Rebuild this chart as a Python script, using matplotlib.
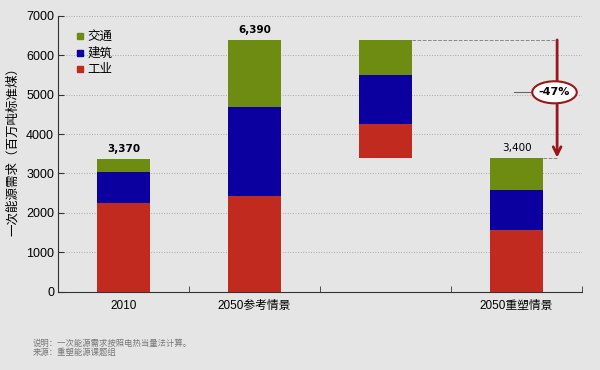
import matplotlib.pyplot as plt
from matplotlib.patches import Ellipse
from matplotlib.lines import Line2D

plt.rcParams['font.family'] = ['Liberation Sans', 'Noto Sans CJK SC', 'DejaVu Sans']

# data (million tons of coal equivalent)
categories = ['2010', '2050参考情景', '', '2050重塑情景']
industry = [2250, 2420, 1570]     # 工业: 2010, 2050 ref, 2050 reshaped
building = [780, 2260, 1000]      # 建筑
transport = [340, 1710, 830]      # 交通
totals = ['3,370', '6,390', '3,400']
change_label = '-47%'

green = '#6e8c12'
blue = '#0b009f'
red = '#c12a1f'
arrow_red = '#9b1717'
bg = '#e5e5e5'

# reduction per sector, shown as floating bar between the two 2050 scenarios
cut_ind = industry[1] - industry[2]
cut_bld = building[1] - building[2]
cut_trn = transport[1] - transport[2]
float_base = industry[2] + building[2] + transport[2]
ref_total = industry[1] + building[1] + transport[1]

fig = plt.figure(figsize=(6, 3.7), dpi=100, facecolor=bg)
ax = fig.add_axes([0.097, 0.212, 0.873, 0.745])
ax.set_facecolor('none')

xs = [0, 1, 3]
w = 0.4
bot2 = [i + b for i, b in zip(industry, building)]
ax.bar(xs, industry, w, color=red, zorder=3)
ax.bar(xs, building, w, bottom=industry, color=blue, zorder=3)
ax.bar(xs, transport, w, bottom=bot2, color=green, zorder=3)

# floating waterfall bar
ax.bar(2, cut_ind, w, bottom=float_base, color=red, zorder=3)
ax.bar(2, cut_bld, w, bottom=float_base + cut_ind, color=blue, zorder=3)
ax.bar(2, cut_trn, w, bottom=float_base + cut_ind + cut_bld, color=green, zorder=3)

# total labels
tops = [i + b + t for i, b, t in zip(industry, building, transport)]
for x, top, lab, wt in zip(xs, tops, totals, ['bold', 'bold', 'normal']):
    ax.text(x, top + 130, lab, ha='center', va='bottom', fontsize=7.5,
            fontweight=wt, family=['DejaVu Sans'], zorder=4)

# dashed connectors and arrow
ax_x = 3.31
ax.plot([2 + w / 2, ax_x], [ref_total, ref_total], ls='--', color='#888888', lw=0.7, zorder=2)
ax.plot([3 + w / 2, ax_x], [float_base, float_base], ls='--', color='#888888', lw=0.7, zorder=2)
ax.annotate('', xy=(ax_x, float_base), xytext=(ax_x, ref_total),
            arrowprops=dict(arrowstyle='->', color=arrow_red, lw=2, mutation_scale=14,
                            shrinkA=0, shrinkB=0), zorder=4)
ax.plot([2.98, 3.12], [5060, 5060], color='#666666', lw=0.8, zorder=4)
ell = Ellipse((3.29, 5060), 0.34, 560, facecolor='white', edgecolor=arrow_red, lw=1.5, zorder=5)
ax.add_patch(ell)
ax.text(3.29, 5060, change_label, ha='center', va='center', fontsize=8, fontweight='bold',
        family=['DejaVu Sans'], zorder=6)

ax.set_xlim(-0.5, 3.5)
ax.set_ylim(0, 7000)
ax.set_yticks(range(0, 7001, 1000))
ax.set_xticks(range(4))
ax.set_xticklabels(categories, fontsize=8.5)
ax.set_xticks([-0.5, 0.5, 1.5, 2.5, 3.5], minor=True)
ax.tick_params(axis='x', which='major', length=0, pad=6)
ax.tick_params(axis='x', which='minor', length=4, direction='in', color='#333333')
ax.tick_params(axis='y', labelsize=9, length=4, direction='in', color='#333333', pad=3)
ax.grid(axis='y', ls=':', color='#aaaaaa', lw=0.7, zorder=0)
for s in ['top', 'right']:
    ax.spines[s].set_visible(False)
for s in ['left', 'bottom']:
    ax.spines[s].set_color('#333333')

ax.set_ylabel('一次能源需求（百万吨标准煤）', fontsize=9)
ax.yaxis.set_label_coords(-0.075, 0.52)

handles = [Line2D([], [], marker='s', ls='', color=c, markersize=5) for c in [green, blue, red]]
ax.legend(handles, ['交通', '建筑', '工业'], loc='upper left', bbox_to_anchor=(0.015, 0.985),
          frameon=False, fontsize=9, handlelength=0.5, handletextpad=0.3, labelspacing=0.35)

fig.text(0.055, 0.066, '说明：一次能源需求按照电热当量法计算。', fontsize=6, color='#777777')
fig.text(0.055, 0.041, '来源：重塑能源课题组', fontsize=6, color='#777777')

fig.savefig('out.png', facecolor=bg)
